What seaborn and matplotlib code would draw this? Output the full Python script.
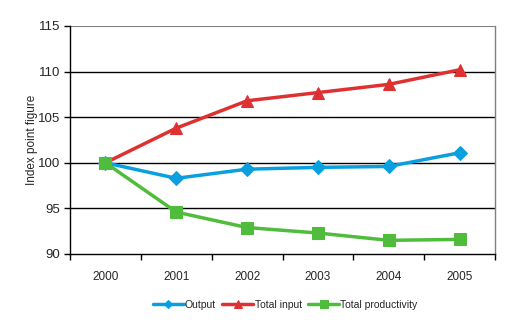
import matplotlib
matplotlib.use("Agg")
import matplotlib.pyplot as plt
import seaborn as sns
import pandas as pd
import numpy as np

years = ["2000", "2001", "2002", "2003", "2004", "2005"]
output = [100.0, 98.3, 99.3, 99.5, 99.6, 101.1]
total_input = [100.0, 103.8, 106.8, 107.7, 108.6, 110.2]
total_productivity = [100.0, 94.6, 92.9, 92.3, 91.5, 91.6]
series_names = ["Output", "Total input", "Total productivity"]
y_ticks = [90, 95, 100, 105, 110, 115]

sns.set_theme(style="white")
plt.rcParams['font.family'] = ['Liberation Sans', 'DejaVu Sans']

rows = []
for name, vals in zip(series_names, [output, total_input, total_productivity]):
    for i, (yr, v) in enumerate(zip(years, vals)):
        rows.append({"pos": i, "Year": yr, "Value": v, "Series": name})
df = pd.DataFrame(rows)

fig = plt.figure(figsize=(5.10, 3.22), dpi=100)
ax = fig.add_axes([70/510, 1-254/322, (495-70)/510, (254-26)/322])

palette = {"Output": "#0AA0E0", "Total input": "#DE3232", "Total productivity": "#50BC3C"}
markers = {"Output": "D", "Total input": "^", "Total productivity": "s"}
msize = {"Output": 7, "Total input": 9, "Total productivity": 9}
for name in series_names:
    sub = df[df["Series"] == name]
    sns.lineplot(data=sub, x="pos", y="Value", ax=ax, color=palette[name],
                 marker=markers[name], markersize=msize[name], linewidth=2.5,
                 markeredgecolor=palette[name], label=name)

ax.set_xlim(-0.5, 5.5)
ax.set_ylim(90, 115)
ax.set_yticks(y_ticks)
ax.set_yticklabels([str(t) for t in y_ticks], fontsize=9.5)
ax.set_xticks(range(len(years)))
ax.set_xticklabels(years, fontsize=8.5)
ax.set_xticks(np.arange(-0.5, 6.0, 1.0), minor=True)
ax.tick_params(axis="x", which="major", bottom=True, length=0, pad=12)
ax.tick_params(axis="x", which="minor", bottom=True, length=4, width=1, color="black", direction="out")
ax.tick_params(axis="y", which="major", left=True, length=4, width=1, color="black", direction="out", pad=3)
ax.set_xlabel("")
ax.set_ylabel("Index point figure", fontsize=8.5, labelpad=0)

for t in [95, 100, 105, 110]:
    ax.axhline(t, color="black", linewidth=1, zorder=0)
ax.axhline(115, color="#808080", linewidth=1.5, zorder=0)

ax.spines["left"].set_color("black")
ax.spines["bottom"].set_color("black")
ax.spines["right"].set_color("#808080")
ax.spines["top"].set_visible(False)
for s in ax.spines.values():
    s.set_linewidth(1)

leg = ax.legend(loc="center", bbox_to_anchor=(285/510, 1-305/322), bbox_transform=fig.transFigure,
                ncol=3, frameon=False, fontsize=7.5, handlelength=3, handletextpad=0.1,
                columnspacing=0.6, markerscale=0.6)

fig.savefig("out.png", dpi=100)
